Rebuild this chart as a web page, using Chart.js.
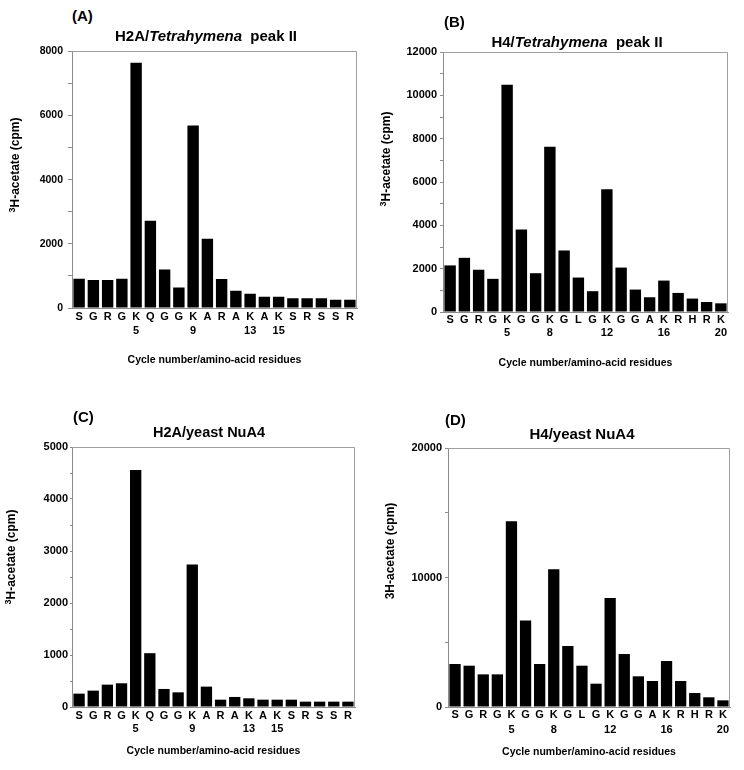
<!DOCTYPE html>
<html>
<head>
<meta charset="utf-8">
<script src="https://cdn.jsdelivr.net/npm/chart.js@4/dist/chart.umd.min.js"></script>
<style>
  html, body { margin: 0; padding: 0; background: #fff; }
  body { width: 744px; height: 770px; position: relative; overflow: hidden;
         font-family: "Liberation Sans", Arial, sans-serif; font-weight: bold; color: #000; }
  canvas { position: absolute; }
  .lbl { position: absolute; white-space: nowrap; line-height: 1; }
  .ctr { transform: translate(-50%, -50%); }
  .left { transform: translateY(-50%); }
  .rot { transform: translate(-50%, -50%) rotate(-90deg); }
  sup { font-size: 0.75em; vertical-align: 0.4em; line-height: 0; }
</style>
</head>
<body>
<canvas id="cA" width="372" height="340" style="left:0px;top:40px;width:372px;height:340px"></canvas>
<canvas id="cB" width="372" height="340" style="left:372px;top:40px;width:372px;height:340px"></canvas>
<canvas id="cC" width="372" height="380" style="left:0px;top:390px;width:372px;height:380px"></canvas>
<canvas id="cD" width="372" height="380" style="left:372px;top:390px;width:372px;height:380px"></canvas>

<div class="lbl left" style="left:72px;top:15px;font-size:15px">(A)</div>
<div class="lbl ctr" style="left:206px;top:35px;font-size:15px">H2A/<i>Tetrahymena</i>&nbsp; peak II</div>
<div class="lbl rot" style="left:15px;top:165px;font-size:12px"><sup>3</sup>H-acetate (cpm)</div>

<div class="lbl left" style="left:444px;top:21px;font-size:15px">(B)</div>
<div class="lbl ctr" style="left:577px;top:41px;font-size:15px">H4/<i>Tetrahymena</i>&nbsp; peak II</div>
<div class="lbl rot" style="left:386px;top:159px;font-size:12px"><sup>3</sup>H-acetate (cpm)</div>

<div class="lbl left" style="left:73px;top:416px;font-size:15px">(C)</div>
<div class="lbl ctr" style="left:209px;top:432px;font-size:14.5px">H2A/yeast NuA4</div>
<div class="lbl rot" style="left:11px;top:557px;font-size:12px"><sup>3</sup>H-acetate (cpm)</div>

<div class="lbl left" style="left:445px;top:419px;font-size:15px">(D)</div>
<div class="lbl ctr" style="left:582px;top:433px;font-size:15px">H4/yeast NuA4</div>
<div class="lbl rot" style="left:390px;top:551px;font-size:12px">3H-acetate (cpm)</div>

<script>
// ---------- DATA ----------
const h2aResidues = ['S','G','R','G','K','Q','G','G','K','A','R','A','K','A','K','S','R','S','S','R'];
const h2aCycleNumbers = ['','','','','5','','','','9','','','','13','','15','','','','',''];
const h4Residues = ['S','G','R','G','K','G','G','K','G','L','G','K','G','G','A','K','R','H','R','K'];
const h4CycleNumbers = ['','','','','5','','','8','','','','12','','','','16','','','','20'];

const valuesA_H2A_Tetrahymena = [910, 876, 876, 915, 7640, 2720, 1200, 640, 5690, 2155, 905, 535, 445, 350, 350, 300, 300, 300, 260, 260];
const valuesB_H4_Tetrahymena  = [2150, 2500, 1950, 1530, 10490, 3810, 1790, 7630, 2840, 1590, 960, 5670, 2050, 1035, 680, 1450, 880, 620, 460, 400];
const valuesC_H2A_NuA4        = [257, 315, 430, 456, 4560, 1035, 347, 282, 2740, 392, 141, 193, 167, 141, 141, 141, 103, 103, 103, 103];
const valuesD_H4_NuA4         = [3320, 3190, 2520, 2520, 14340, 6670, 3320, 10630, 4710, 3190, 1800, 8420, 4090, 2370, 2010, 3550, 2010, 1080, 750, 515];

const yMaxA = 8000,  yLabelStepA = 2000,  yMinorStepA = 1000;
const yMaxB = 12000, yLabelStepB = 2000,  yMinorStepB = 1000;
const yMaxC = 5000,  yLabelStepC = 1000,  yMinorStepC = 500;
const yMaxD = 20000, yLabelStepD = 10000, yMinorStepD = 5000;
const xAxisTitle = 'Cycle number/amino-acid residues';
// --------------------------

const FONT = "'Liberation Sans', Arial, sans-serif";
const AXIS_GRAY = '#8c8c8c';

const frameBorder = {
  id: 'frameBorder',
  afterDraw(chart) {
    const a = chart.chartArea, ctx = chart.ctx;
    ctx.save();
    ctx.strokeStyle = '#a0a0a0';
    ctx.lineWidth = 1;
    ctx.beginPath();
    ctx.moveTo(a.left, Math.round(a.top) + 0.5);
    ctx.lineTo(Math.round(a.right) - 0.5, Math.round(a.top) + 0.5);
    ctx.lineTo(Math.round(a.right) - 0.5, a.bottom);
    ctx.stroke();
    ctx.restore();
  }
};

function buildLabels(res, nums) {
  return res.map((r, i) => [r, nums[i]]);
}

function makePanel(id, labels, values, yMax, labelStep, minorStep, g) {
  new Chart(document.getElementById(id), {
    type: 'bar',
    data: {
      labels: labels,
      datasets: [{
        data: values,
        backgroundColor: '#000',
        borderWidth: 0,
        barPercentage: 0.8,
        categoryPercentage: 1.0
      }]
    },
    options: {
      responsive: false,
      animation: false,
      events: [],
      layout: { padding: { left: 0, right: g.padRight, top: g.padTop, bottom: 0 } },
      plugins: { legend: { display: false }, tooltip: { enabled: false }, title: { display: false } },
      scales: {
        x: {
          offset: true,
          grid: { display: false, drawTicks: false },
          border: { display: true, color: AXIS_GRAY, width: 1 },
          ticks: {
            color: '#000', autoSkip: false, maxRotation: 0, minRotation: 0,
            padding: g.xTickPad,
            font: { family: FONT, size: 11, weight: 'bold', lineHeight: g.xLine }
          },
          title: {
            display: true, text: xAxisTitle, color: '#000',
            font: { family: FONT, size: 10.5, weight: 'bold', lineHeight: 1.2 },
            padding: { top: 0, bottom: g.xTitlePad }
          },
          afterFit(s) { s.height = g.xHeight; }
        },
        y: {
          min: 0, max: yMax,
          grid: { display: true, drawOnChartArea: false, drawTicks: true, tickLength: g.tickLen, color: AXIS_GRAY, tickColor: AXIS_GRAY },
          border: { display: true, color: AXIS_GRAY, width: 1 },
          ticks: {
            stepSize: minorStep, color: '#000', padding: g.yTickPad,
            font: { family: FONT, size: g.yFont, weight: 'bold' },
            callback: (v) => (v % labelStep === 0 ? String(v) : '')
          },
          afterFit(s) { s.width = g.yWidth; }
        }
      }
    },
    plugins: [frameBorder]
  });
}

makePanel('cA', buildLabels(h2aResidues, h2aCycleNumbers), valuesA_H2A_Tetrahymena, yMaxA, yLabelStepA, yMinorStepA,
  { padTop: 9, padRight: 15, yWidth: 72, xHeight: 72, xTickPad: 2, xLine: 1.27, xTitlePad: 14, tickLen: 4, yTickPad: 5, yFont: 10.5 });
makePanel('cB', buildLabels(h4Residues, h4CycleNumbers), valuesB_H4_Tetrahymena, yMaxB, yLabelStepB, yMinorStepB,
  { padTop: 12, padRight: 16, yWidth: 71, xHeight: 68, xTickPad: 1, xLine: 1.2, xTitlePad: 11, tickLen: 3, yTickPad: 3, yFont: 11 });
makePanel('cC', buildLabels(h2aResidues, h2aCycleNumbers), valuesC_H2A_NuA4, yMaxC, yLabelStepC, yMinorStepC,
  { padTop: 57, padRight: 17, yWidth: 72, xHeight: 63, xTickPad: 2, xLine: 1.2, xTitlePad: 13, tickLen: 2, yTickPad: 2, yFont: 11 });
makePanel('cD', buildLabels(h4Residues, h4CycleNumbers), valuesD_H4_NuA4, yMaxD, yLabelStepD, yMinorStepD,
  { padTop: 58, padRight: 14, yWidth: 76, xHeight: 63, xTickPad: 1, xLine: 1.35, xTitlePad: 12, tickLen: 3, yTickPad: 3, yFont: 11 });
</script>
</body>
</html>
